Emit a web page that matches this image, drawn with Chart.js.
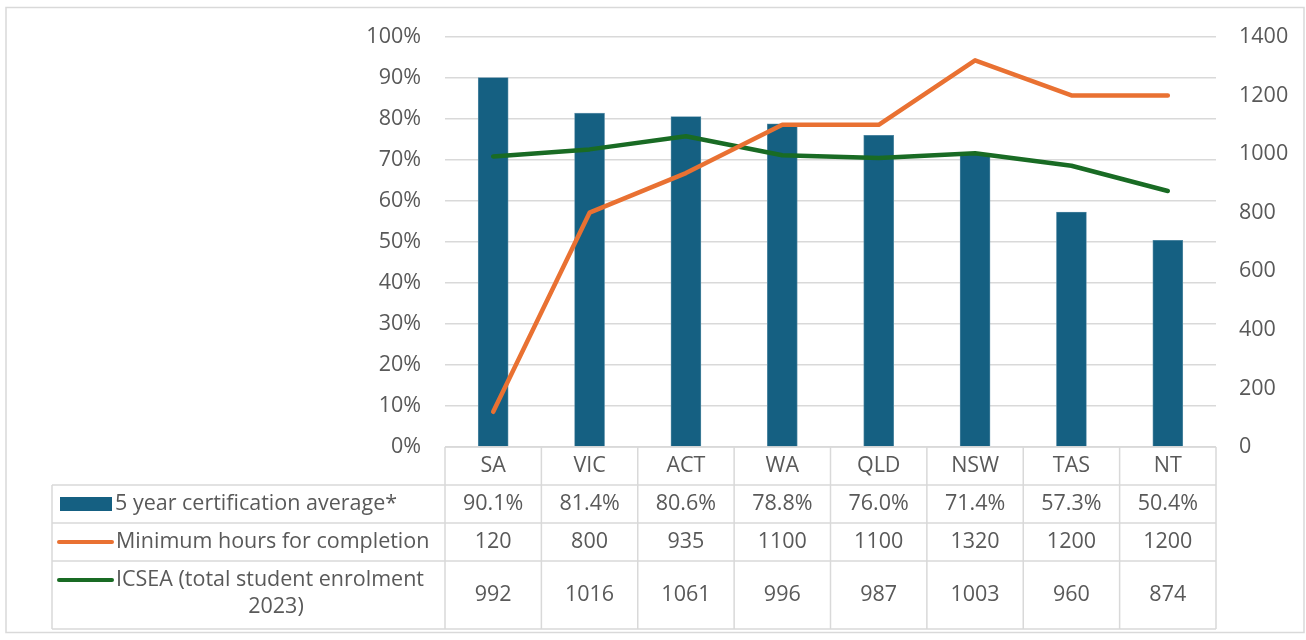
<!DOCTYPE html>
<html>
<head>
<meta charset="utf-8">
<script src="https://cdn.jsdelivr.net/npm/chart.js@4"></script>
<style>
  html, body { margin: 0; padding: 0; background: #ffffff; }
  canvas { display: block; }
</style>
</head>
<body>
<canvas id="certChart" width="1306" height="640"></canvas>
<script>
// Data
const categories = ['SA', 'VIC', 'ACT', 'WA', 'QLD', 'NSW', 'TAS', 'NT'];
const certAverage = [90.1, 81.4, 80.6, 78.8, 76.0, 71.4, 57.3, 50.4];
const minHours = [120, 800, 935, 1100, 1100, 1320, 1200, 1200];
const icsea = [992, 1016, 1061, 996, 987, 1003, 960, 874];
const seriesNames = ['5 year certification average*', 'Minimum hours for completion', 'ICSEA (total student enrolment', '2023)'];

const textColor = '#595959';
const gridColor = '#d9d9d9';
const fontFamily = '"Open Sans", Roboto, sans-serif';
const fontSize = 21.5;

// draws outer frame and the data table below the plot
const dataTablePlugin = {
    id: 'dataTable',
    beforeDraw(chart) {
        const ctx = chart.ctx;
        ctx.save();
        ctx.strokeStyle = gridColor;
        ctx.lineWidth = 1.5;
        ctx.strokeRect(6, 7.5, 1298, 625);
        ctx.restore();
    },
    afterDraw(chart) {
        const ctx = chart.ctx;
        const x = chart.scales.x;
        const area = chart.chartArea;
        const colW = x.getPixelForValue(1) - x.getPixelForValue(0);
        const tableLeft = 52;
        const rows = [area.bottom, 485, 523, 561, 629];

        ctx.save();
        ctx.strokeStyle = gridColor;
        ctx.lineWidth = 1.5;
        // horizontal lines
        ctx.beginPath();
        ctx.moveTo(area.left, rows[0]); ctx.lineTo(area.right, rows[0]);
        for (let r = 1; r < rows.length; r++) {
            ctx.moveTo(tableLeft, rows[r]); ctx.lineTo(area.right, rows[r]);
        }
        // vertical lines
        ctx.moveTo(tableLeft, rows[1]); ctx.lineTo(tableLeft, rows[4]);
        for (let i = 0; i <= categories.length; i++) {
            const px = area.left + i * colW;
            ctx.moveTo(px, rows[0]); ctx.lineTo(px, rows[4]);
        }
        ctx.stroke();

        ctx.fillStyle = textColor;
        ctx.font = fontSize + 'px ' + fontFamily;
        ctx.textBaseline = 'middle';
        ctx.textAlign = 'center';
        const rowMid = r => (rows[r] + rows[r + 1]) / 2;
        categories.forEach((c, i) => {
            const cx = x.getPixelForValue(i);
            ctx.fillText(c, cx, rowMid(0));
            ctx.fillText(certAverage[i].toFixed(1) + '%', cx, rowMid(1));
            ctx.fillText(String(minHours[i]), cx, rowMid(2));
            ctx.fillText(String(icsea[i]), cx, rowMid(3));
        });

        // legend keys
        const ds = chart.data.datasets;
        ctx.fillStyle = ds[0].backgroundColor;
        ctx.fillRect(60, rowMid(1) - 7, 52, 14);
        ctx.lineCap = 'round';
        ctx.lineWidth = 4;
        ctx.strokeStyle = ds[1].borderColor;
        ctx.beginPath(); ctx.moveTo(59, rowMid(2)); ctx.lineTo(112, rowMid(2)); ctx.stroke();
        ctx.strokeStyle = ds[2].borderColor;
        ctx.beginPath(); ctx.moveTo(59, 580); ctx.lineTo(112, 580); ctx.stroke();

        ctx.fillStyle = textColor;
        ctx.textAlign = 'left';
        ctx.fillText(seriesNames[0], 115, rowMid(1));
        ctx.fillText(seriesNames[1], 116, rowMid(2));
        ctx.fillText(seriesNames[2], 116, 580);
        ctx.textAlign = 'center';
        ctx.fillText(seriesNames[3], 276, 607);
        ctx.restore();
    }
};

new Chart(document.getElementById('certChart'), {
    type: 'bar',
    data: {
        labels: categories,
        datasets: [{
            label: seriesNames[0],
            data: certAverage,
            backgroundColor: '#156082',
            borderColor: '#5b8fa8',
            borderWidth: 0.8,
            barThickness: 30,
            yAxisID: 'y',
            order: 3
        }, {
            type: 'line',
            label: seriesNames[1],
            data: minHours,
            borderColor: '#e97132',
            backgroundColor: '#e97132',
            borderWidth: 4.5,
            borderCapStyle: 'round',
            borderJoinStyle: 'round',
            pointRadius: 0,
            tension: 0,
            yAxisID: 'y1',
            order: 1
        }, {
            type: 'line',
            label: 'ICSEA (total student enrolment 2023)',
            data: icsea,
            borderColor: '#196b24',
            backgroundColor: '#196b24',
            borderWidth: 4.5,
            borderCapStyle: 'round',
            borderJoinStyle: 'round',
            pointRadius: 0,
            tension: 0,
            yAxisID: 'y1',
            order: 2
        }]
    },
    options: {
        responsive: false,
        animation: false,
        layout: { padding: { top: 36, left: 0, right: 0, bottom: 0 } },
        plugins: {
            legend: { display: false },
            tooltip: { enabled: false }
        },
        scales: {
            x: {
                ticks: { display: false },
                grid: { display: false },
                border: { display: false },
                afterFit: s => { s.height = 193; }
            },
            y: {
                position: 'left',
                min: 0,
                max: 100,
                ticks: {
                    stepSize: 10,
                    padding: 24,
                    color: textColor,
                    font: { family: fontFamily, size: fontSize },
                    callback: v => v + '%'
                },
                grid: { color: gridColor, lineWidth: 1.5, drawTicks: false },
                border: { display: false },
                afterFit: s => { s.width = 445; }
            },
            y1: {
                position: 'right',
                min: 0,
                max: 1400,
                ticks: {
                    stepSize: 200,
                    padding: 23,
                    color: textColor,
                    font: { family: fontFamily, size: fontSize },
                    callback: v => String(v)
                },
                grid: { drawOnChartArea: false, drawTicks: false },
                border: { display: false },
                afterFit: s => { s.width = 90; }
            }
        }
    },
    plugins: [dataTablePlugin]
});
</script>
</body>
</html>
